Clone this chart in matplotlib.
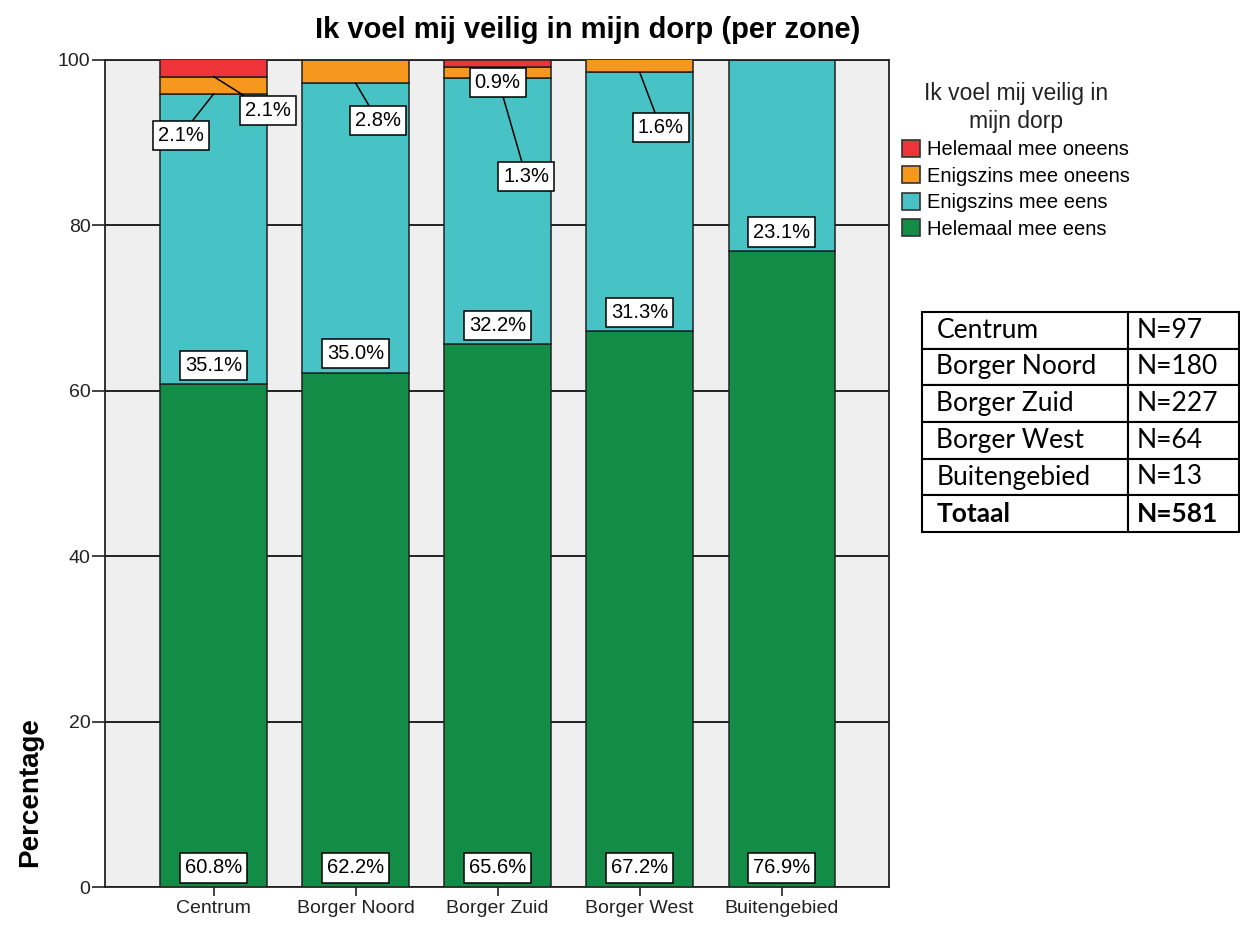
import matplotlib

matplotlib.use("Agg")

import matplotlib.pyplot as plt
import numpy as np
from matplotlib.patches import Patch

plt.rcParams["font.family"] = ["Liberation Sans", "DejaVu Sans"]

zones = ["Centrum", "Borger Noord", "Borger Zuid", "Borger West", "Buitengebied"]
categories = ["Helemaal mee eens", "Enigszins mee eens", "Enigszins mee oneens", "Helemaal mee oneens"]
helemaal_eens = [60.8, 62.2, 65.6, 67.2, 76.9]
enigszins_eens = [35.1, 35.0, 32.2, 31.3, 23.1]
enigszins_oneens = [2.1, 2.8, 1.3, 1.6, 0.0]
helemaal_oneens = [2.1, 0.0, 0.9, 0.0, 0.0]
colors = ["#128C46", "#47C2C5", "#F7981E", "#EE3339"]

n_zones = ["N=97", "N=180", "N=227", "N=64", "N=13"]
n_total = "N=581"

# placement of the small labels: (zone, category) -> (x offset, label y, leader line)
small_labels = {
    (0, 3): (0.38, 93.9, True),
    (0, 2): (-0.23, 90.9, True),
    (1, 2): (0.155, 92.7, True),
    (2, 3): (0.0, 97.3, False),
    (2, 2): (0.2, 85.9, True),
    (3, 2): (0.148, 91.8, True),
}

series = [helemaal_eens, enigszins_eens, enigszins_oneens, helemaal_oneens]

fig = plt.figure(figsize=(12.4, 9.25), dpi=100)
ax = fig.add_axes([105 / 1240, 1 - 887 / 925, 784 / 1240, 827 / 925])
ax.set_facecolor("#EFEFEF")

x = np.arange(len(zones))
bottom = np.zeros(len(zones))
box = dict(boxstyle="square,pad=0.25", fc="white", ec="black", lw=1.1)
for ci, vals in enumerate(series):
    vals = np.array(vals)
    ax.bar(x, vals, width=0.75, bottom=bottom, color=colors[ci], edgecolor="#222222",
           linewidth=1.1, zorder=3)
    for zi in range(len(zones)):
        if vals[zi] <= 0:
            continue
        txt = f"{vals[zi]:.1f}%"
        if (zi, ci) in small_labels:
            dx, ly, leader = small_labels[(zi, ci)]
            if leader:
                ax.annotate(txt, xy=(x[zi], bottom[zi]), xytext=(x[zi] + dx, ly),
                            ha="center", va="center", fontsize=14.5, bbox=box, zorder=5,
                            arrowprops=dict(arrowstyle="-", color="black", lw=1.1,
                                            shrinkA=0, shrinkB=0))
            else:
                ax.text(x[zi] + dx, ly, txt, ha="center", va="center", fontsize=14.5,
                        bbox=box, zorder=6)
        else:
            ax.text(x[zi], bottom[zi] + 2.3, txt, ha="center", va="center",
                    fontsize=14.5, bbox=box, zorder=5)
    bottom = bottom + vals

ax.set_xlim(-0.765, 4.755)
ax.set_ylim(0, 100)
ax.set_yticks([0, 20, 40, 60, 80, 100])
ax.set_xticks(x)
ax.set_xticklabels(zones)
ax.yaxis.grid(True, color="#222222", linewidth=1.4, zorder=1)
ax.set_axisbelow(True)
ax.tick_params(axis="y", length=9.5, width=1.2, labelsize=14, colors="#222222", pad=1)
ax.tick_params(axis="x", length=6.5, width=1.2, labelsize=14, colors="#222222", pad=3)
for s in ax.spines.values():
    s.set_color("#222222")
    s.set_linewidth(1.3)

fig.text(588 / 1240, 1 - 30 / 925, "Ik voel mij veilig in mijn dorp (per zone)",
         ha="center", va="center", fontsize=21, fontweight="bold")
fig.text(30 / 1240, 1 - 792 / 925, "Percentage", rotation=90, ha="center",
         va="center", fontsize=20, fontweight="bold")

handles = [Patch(facecolor=colors[i], edgecolor="#333333", linewidth=1.2, label=categories[i])
           for i in range(3, -1, -1)]
leg = fig.legend(handles=handles, loc="upper left", bbox_to_anchor=(892 / 1240, 1 - 72 / 925),
                 frameon=False, fontsize=14.5, title="Ik voel mij veilig in\nmijn dorp",
                 title_fontsize=16.5, handlelength=0.9, handleheight=0.9,
                 handletextpad=0.35, labelspacing=0.36, borderpad=0.0, alignment="center")
leg.get_title().set_color("#222222")
leg.get_title().set_multialignment("center")
leg.get_title().set_linespacing(1.25)

# N table
tab_ax = fig.add_axes([922 / 1240, 1 - 532 / 925, 317 / 1240, 220 / 925])
tab_ax.axis("off")
rows = [[z, n] for z, n in zip(zones, n_zones)] + [["Totaal", n_total]]
tbl = tab_ax.table(cellText=rows, colWidths=[0.65, 0.35], bbox=[0, 0, 1, 1], cellLoc="left")
tbl.auto_set_font_size(False)
for (r, c), cell in tbl.get_celld().items():
    cell.set_linewidth(1.5)
    cell.set_edgecolor("black")
    cell.PAD = 0.07 if c == 0 else 0.08
    t = cell.get_text()
    t.set_fontsize(19)
    t.set_fontfamily(["Lato", "DejaVu Sans"])
    if r == len(rows) - 1:
        t.set_fontweight("bold")

fig.savefig("out.png", dpi=100)
